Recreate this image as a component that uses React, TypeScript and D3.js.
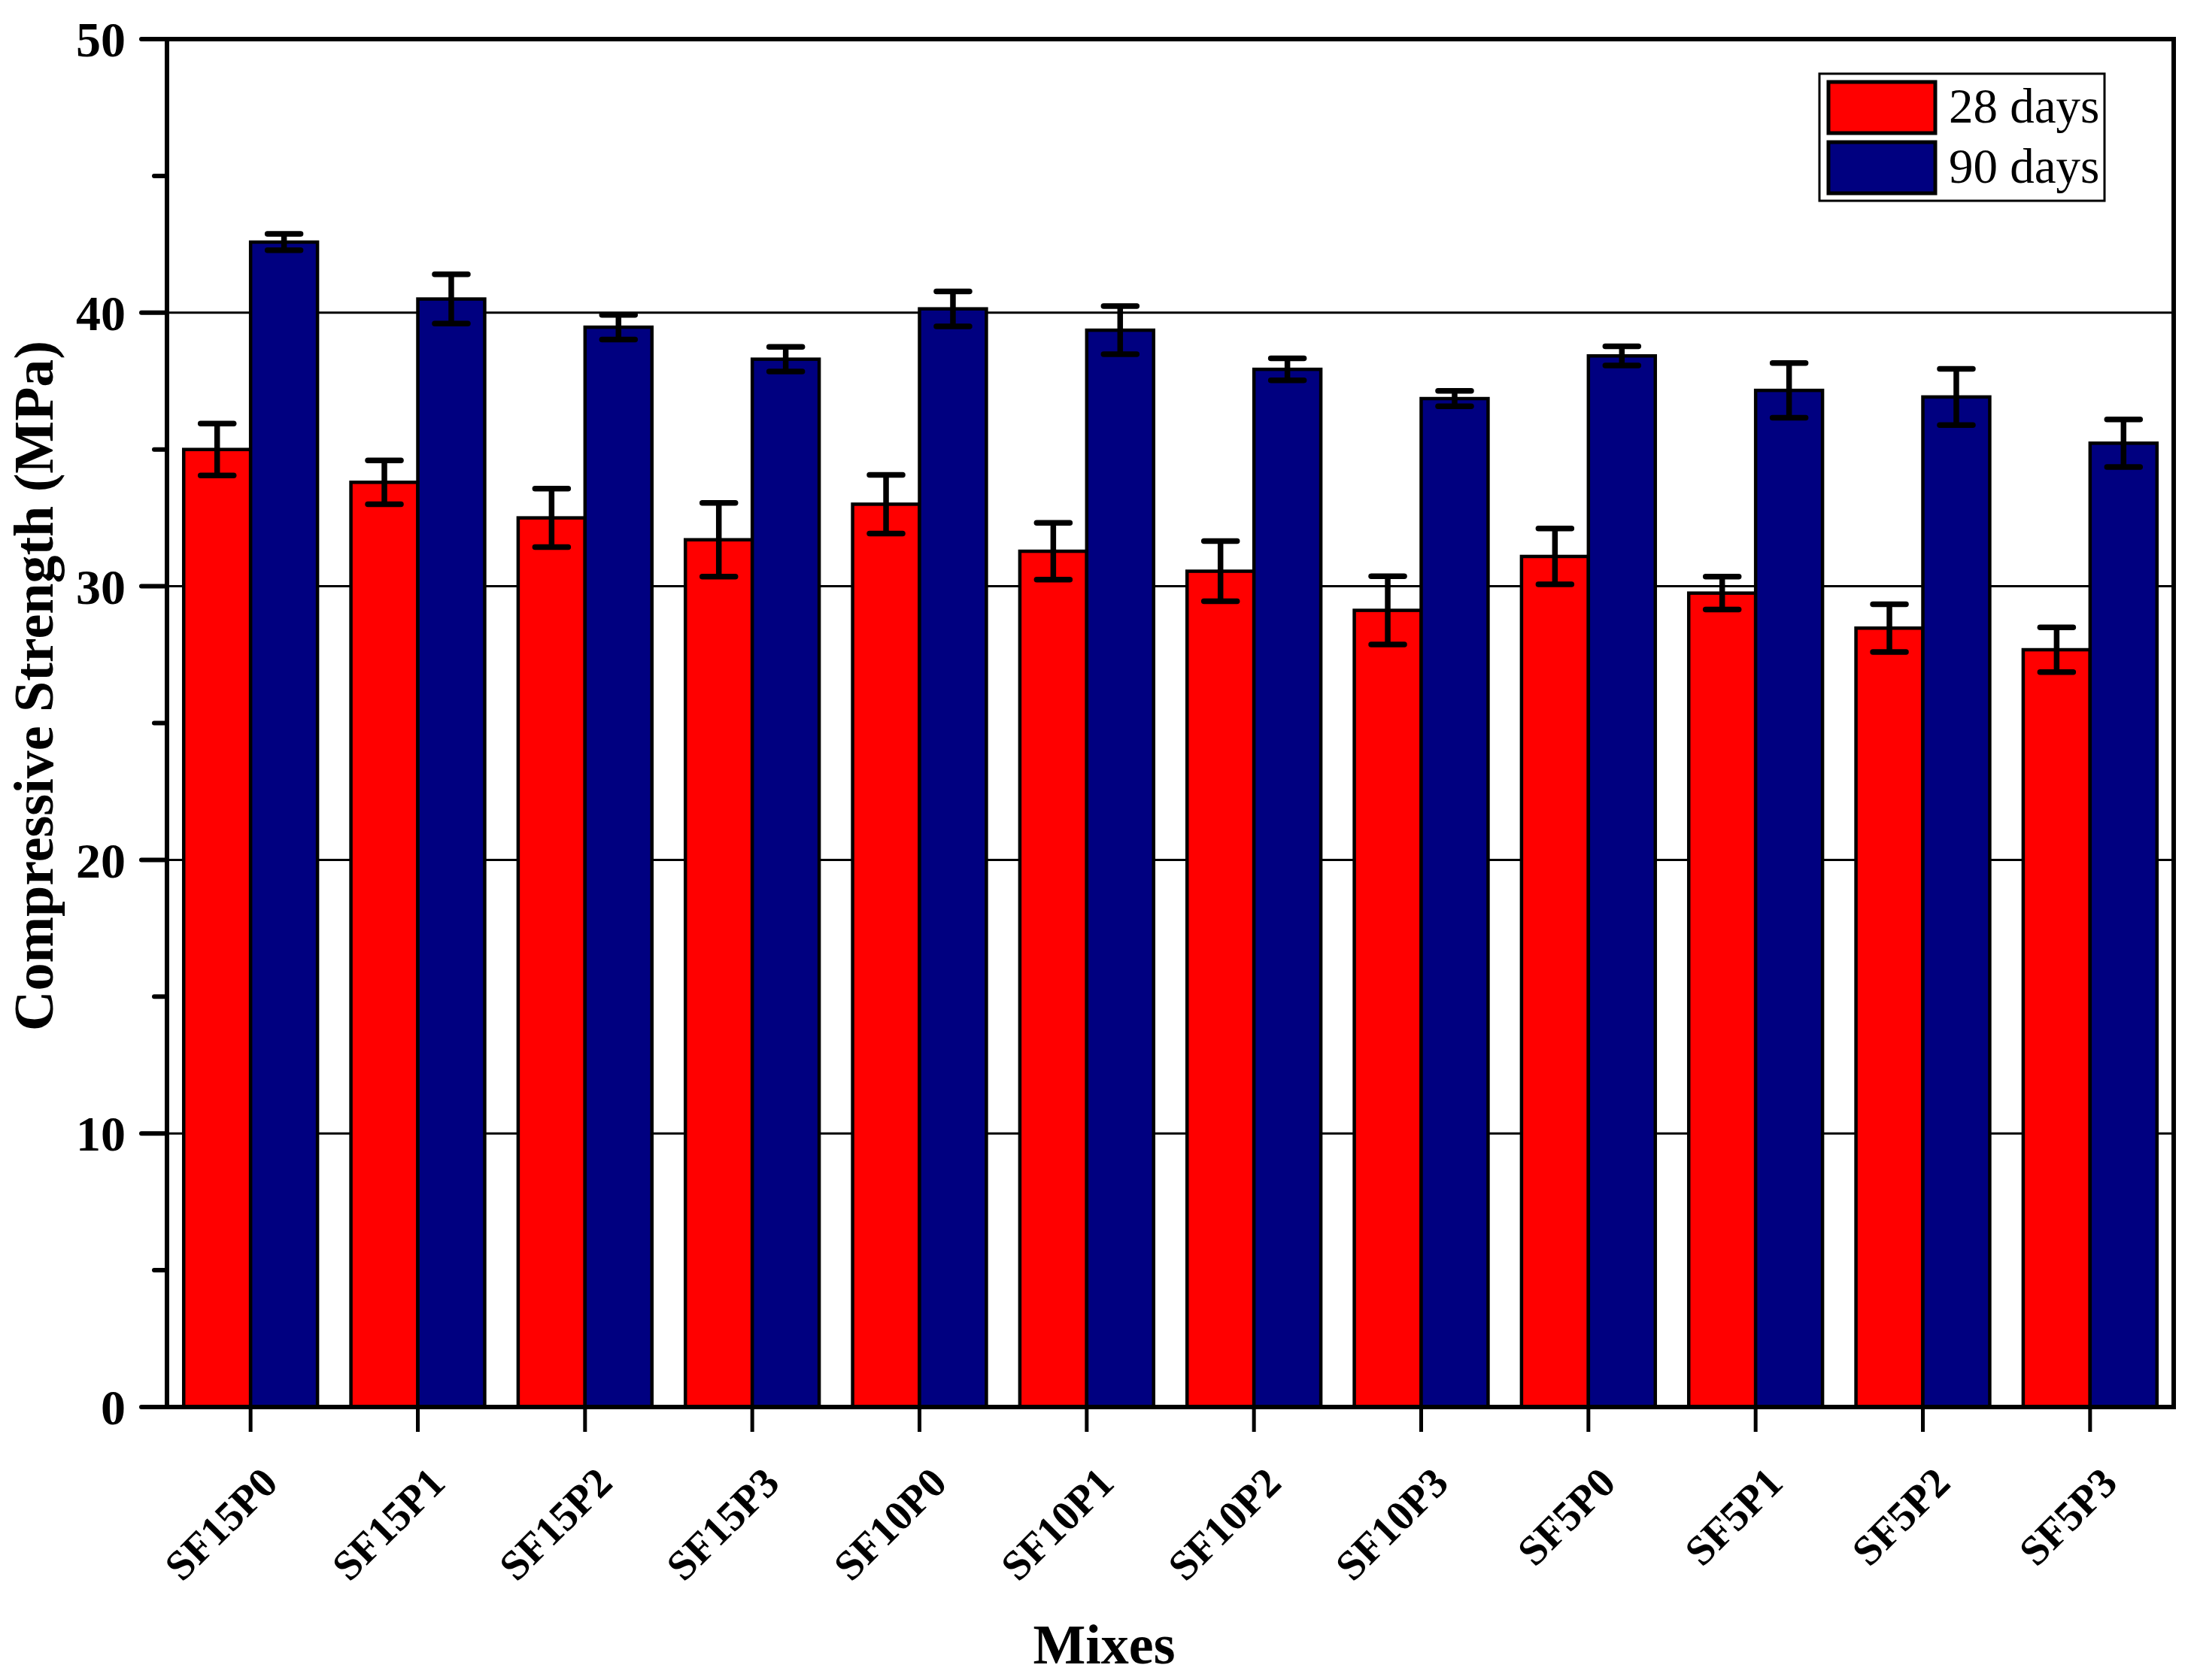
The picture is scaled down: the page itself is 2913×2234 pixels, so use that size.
import React from 'react';
import * as d3 from 'd3';

const categories = ['SF15P0', 'SF15P1', 'SF15P2', 'SF15P3', 'SF10P0', 'SF10P1', 'SF10P2', 'SF10P3', 'SF5P0', 'SF5P1', 'SF5P2', 'SF5P3'];
const seriesNames = ['28 days', '90 days'];
const seriesColors = ['#ff0000', '#000080'];
const days28 = [35.0, 33.8, 32.5, 31.7, 33.0, 31.28, 30.55, 29.12, 31.09, 29.75, 28.47, 27.68];
const err28 = [0.95, 0.8, 1.07, 1.35, 1.07, 1.04, 1.1, 1.25, 1.02, 0.6, 0.87, 0.82];
const days90 = [42.58, 40.5, 39.47, 38.3, 40.14, 39.36, 37.93, 36.86, 38.42, 37.16, 36.92, 35.23];
const err90 = [0.3, 0.9, 0.45, 0.45, 0.64, 0.88, 0.4, 0.28, 0.35, 1.0, 1.03, 0.87];
const majorTicks = [0, 10, 20, 30, 40, 50];
const minorTicks = [5, 15, 25, 35, 45];
const gridTicks = [10, 20, 30, 40];

const W = 2913;
const H = 2234;
const L = 222;
const R = 2890;
const T = 52;
const B = 1871;
const FONT = '"Liberation Serif", "Times New Roman", Times, serif';

export default function App() {
  const x = d3.scaleBand<string>().domain(categories).range([L, R]).paddingInner(0).paddingOuter(0);
  const bw = x.bandwidth();
  const xs = d3.scaleBand<string>().domain(seriesNames).range([bw * 0.1, bw * 0.9]).padding(0);
  const y = d3.scaleLinear().domain([0, 50]).range([B, T]);
  const values = [days28, days90];
  const errs = [err28, err90];

  return (
    <svg width={W} height={H} viewBox={`0 0 ${W} ${H}`} style={{ position: 'absolute', left: 0, top: 0, display: 'block', background: '#fff' }} fontFamily={FONT}>
      <rect x={0} y={0} width={W} height={H} fill="#fff" />
      {/* gridlines */}
      {gridTicks.map((t) => (
        <line key={'g' + t} x1={L} x2={R} y1={y(t)} y2={y(t)} stroke="#000" strokeWidth={3} />
      ))}
      {/* bars */}
      {categories.map((c, i) => (
        <g key={c}>
          {seriesNames.map((s, k) => {
            const x0 = (x(c) as number) + (xs(s) as number);
            const v = values[k][i];
            return (
              <rect key={s} x={x0} y={y(v)} width={xs.bandwidth()} height={y(0) - y(v)} fill={seriesColors[k]} stroke="#000" strokeWidth={4.5} />
            );
          })}
        </g>
      ))}
      {/* error bars */}
      {categories.map((c, i) => (
        <g key={'e' + c}>
          {seriesNames.map((s, k) => {
            const cx = (x(c) as number) + (xs(s) as number) + xs.bandwidth() / 2;
            const v = values[k][i];
            const e = errs[k][i];
            return (
              <g key={s} stroke="#000">
                <line x1={cx} x2={cx} y1={y(v + e)} y2={y(v - e)} strokeWidth={7.5} />
                <line x1={cx - 22} x2={cx + 22} y1={y(v + e)} y2={y(v + e)} strokeWidth={7.5} strokeLinecap="round" />
                <line x1={cx - 22} x2={cx + 22} y1={y(v - e)} y2={y(v - e)} strokeWidth={7.5} strokeLinecap="round" />
              </g>
            );
          })}
        </g>
      ))}
      {/* y ticks */}
      {majorTicks.map((t) => (
        <g key={'yt' + t}>
          <line x1={L - 34} x2={L} y1={y(t)} y2={y(t)} stroke="#000" strokeWidth={6} strokeLinecap="round" />
          <text x={167} y={y(t)} dy="0.35em" textAnchor="end" fontSize={66} fontWeight="bold">{t}</text>
        </g>
      ))}
      {minorTicks.map((t) => (
        <line key={'ym' + t} x1={L - 17} x2={L} y1={y(t)} y2={y(t)} stroke="#000" strokeWidth={6} strokeLinecap="round" />
      ))}
      {/* x ticks and labels */}
      {categories.map((c) => {
        const cx = (x(c) as number) + bw / 2;
        return (
          <g key={'xt' + c}>
            <line x1={cx} x2={cx} y1={B} y2={B + 33} stroke="#000" strokeWidth={5} />
            <text transform={`translate(${cx + 39},${B + 104}) rotate(-45)`} textAnchor="end" fontSize={56} fontWeight="bold">{c}</text>
          </g>
        );
      })}
      {/* frame */}
      <rect x={L} y={T} width={R - L} height={B - T} fill="none" stroke="#000" strokeWidth={6} />
      {/* axis titles */}
      <text x={1468} y={2212} textAnchor="middle" fontSize={74} fontWeight="bold">Mixes</text>
      <text transform={`translate(70,912) rotate(-90)`} textAnchor="middle" fontSize={74} fontWeight="bold">Compressive Strength (MPa)</text>
      {/* legend */}
      <rect x={2419} y={98} width={379} height={169} fill="#fff" stroke="#000" strokeWidth={3} />
      {seriesNames.map((s, k) => (
        <g key={'lg' + s}>
          <rect x={2431} y={109 + k * 80} width={142} height={68} fill={seriesColors[k]} stroke="#000" strokeWidth={5} />
          <text x={2591} y={163 + k * 80} fontSize={65}>{s}</text>
        </g>
      ))}
    </svg>
  );
}
